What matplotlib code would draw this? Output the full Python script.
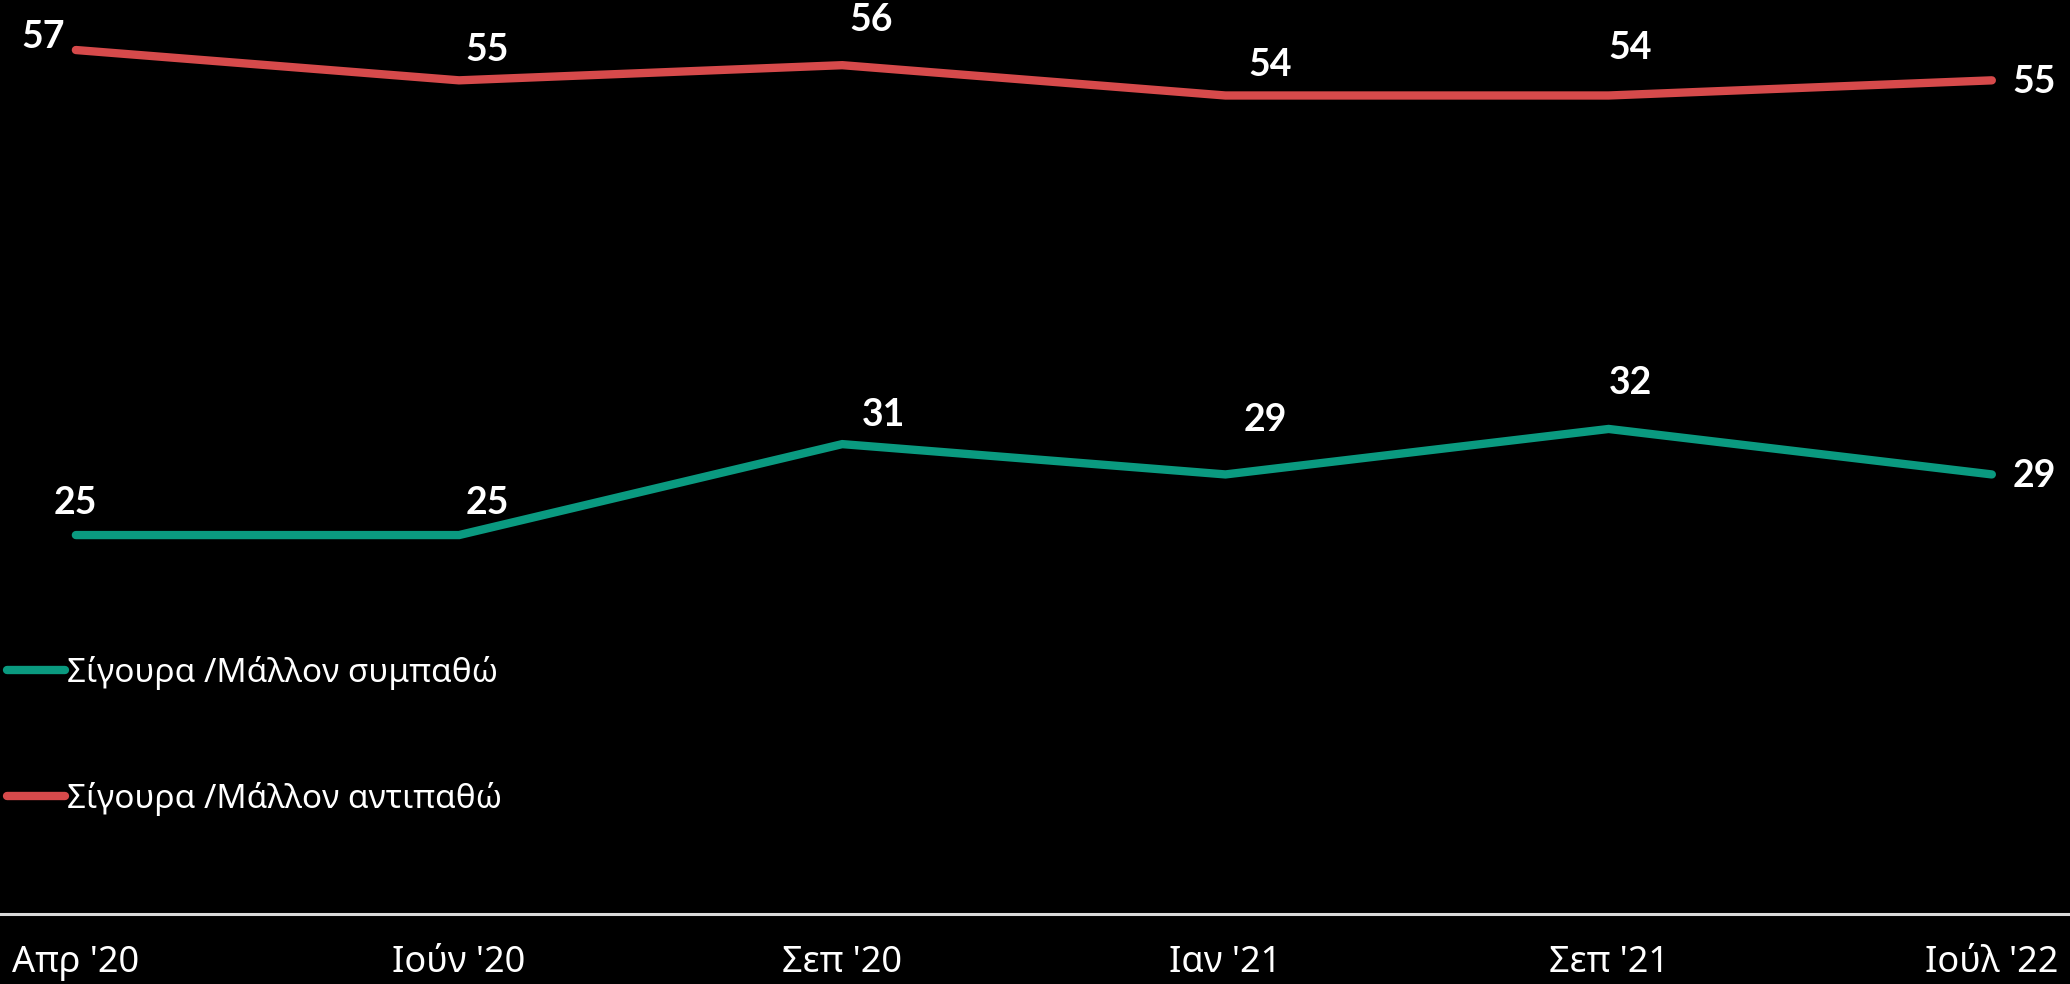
import matplotlib.pyplot as plt

months = ["Απρ '20", "Ιούν '20", "Σεπ '20", "Ιαν '21", "Σεπ '21", "Ιούλ '22"]
like = [25, 25, 31, 29, 32, 29]
dislike = [57, 55, 56, 54, 54, 55]
like_name = "Σίγουρα /Μάλλον συμπαθώ"
dislike_name = "Σίγουρα /Μάλλον αντιπαθώ"

teal = "#0A9A80"
red = "#D64A4B"

# label offsets in pixels (hand placed, like the original slide)
like_off = [(0, 32), (28, 32), (41, 29), (40, 54), (22, 46), (42, -2)]
dislike_off = [(-33, 13), (28, 30), (29, 45), (45, 30), (22, 47), (42, -2)]

txt_font = ["Noto Sans", "DejaVu Sans"]
num_font = ["Lato", "DejaVu Sans"]

fig = plt.figure(figsize=(20.7, 9.84), dpi=100, facecolor="black")
ax = fig.add_axes([0, 70 / 984, 1, 914 / 984], facecolor="black")

x = list(range(len(months)))
l1, = ax.plot(x, like, color=teal, lw=6, solid_capstyle="round", solid_joinstyle="miter")
l2, = ax.plot(x, dislike, color=red, lw=6, solid_capstyle="round", solid_joinstyle="miter")

for xs, ys, offs in [(x, like, like_off), (x, dislike, dislike_off)]:
    for xi, yi, (dx, dy) in zip(xs, ys, offs):
        ax.annotate(str(yi), (xi, yi), xytext=(dx, dy), textcoords="offset pixels",
                    ha="center", va="center", color="white", fontsize=27,
                    fontweight="bold", family=num_font, annotation_clip=False)

ax.set_xlim(-0.198, 5.204)
ax.set_ylim(0, 60.3)
ax.set_xticks(x)
ax.set_xticklabels(months, color="white", fontsize=26, family=txt_font)
ax.tick_params(axis="x", length=0, pad=22)
ax.set_yticks([])
for s in ["top", "left", "right"]:
    ax.spines[s].set_visible(False)
ax.spines["bottom"].set_color("#D9D9D9")
ax.spines["bottom"].set_linewidth(2.2)

leg = ax.legend([l1, l2], [like_name, dislike_name], loc="center left",
                bbox_to_anchor=(0.0034, 0.195), frameon=False, borderpad=0,
                borderaxespad=0, handlelength=1.75, handletextpad=0.05,
                labelspacing=2.75, prop={"family": txt_font, "size": 24})
for t in leg.get_texts():
    t.set_color("white")

fig.savefig("out.png", dpi=100, facecolor="black")
